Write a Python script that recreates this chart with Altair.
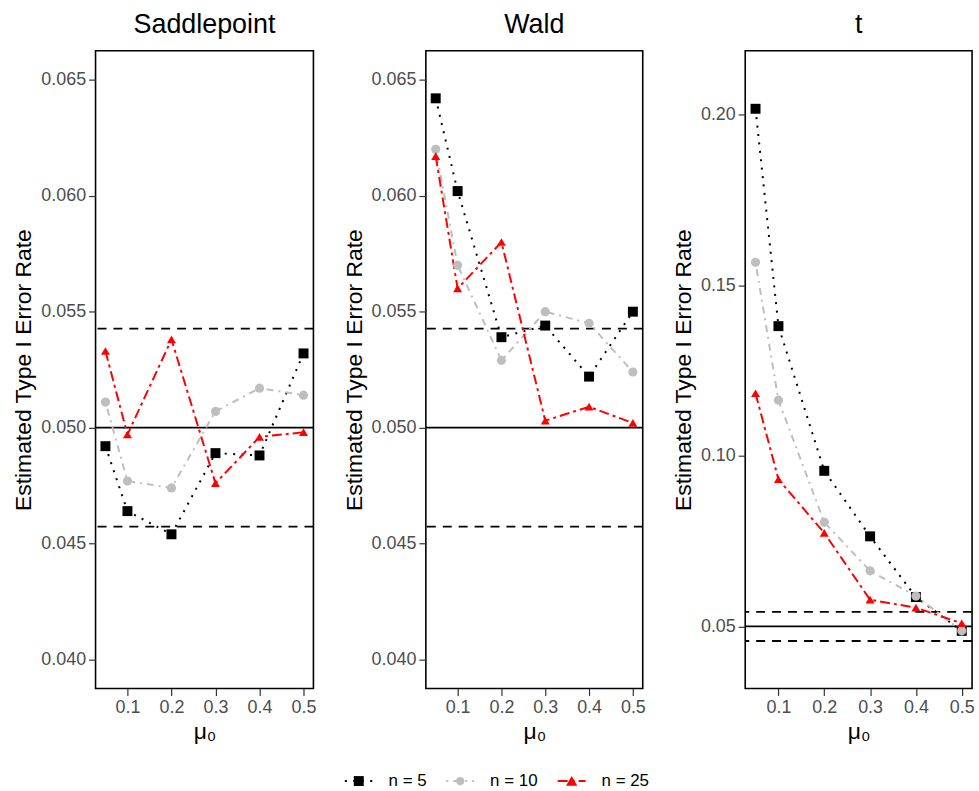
import altair as alt
import pandas as pd

# Hypothesised means and sample-size series
mu0 = [0.05, 0.1, 0.2, 0.3, 0.4, 0.5]
series = ["n = 5", "n = 10", "n = 25"]

# Estimated type I error rates, one list per test and sample size
saddle_n5 = [0.0492, 0.0464, 0.0454, 0.0489, 0.0488, 0.0532]
saddle_n10 = [0.0511, 0.0477, 0.0474, 0.0507, 0.0517, 0.0514]
saddle_n25 = [0.0533, 0.0497, 0.0538, 0.0476, 0.0496, 0.0498]

wald_n5 = [0.0642, 0.0602, 0.0539, 0.0544, 0.0522, 0.0550]
wald_n10 = [0.0620, 0.0570, 0.0529, 0.0550, 0.0545, 0.0524]
wald_n25 = [0.0617, 0.0560, 0.0580, 0.0503, 0.0509, 0.0502]

t_n5 = [0.2017, 0.1380, 0.0956, 0.0764, 0.0586, 0.0487]
t_n10 = [0.1567, 0.1163, 0.0805, 0.0663, 0.0589, 0.0487]
t_n25 = [0.1183, 0.0931, 0.0774, 0.0578, 0.0555, 0.0509]

# Nominal level and Monte Carlo band
nominal = [0.05]
band = [0.04573, 0.05427]

# Series styling (triangle as an equilateral path in the unit box)
TRIANGLE = "M0,-0.95L-1.08,0.9L1.08,0.9Z"
colors = ["black", "#BEBEBE", "#FF0000"]
dashes = [[2, 6.5], [2, 5, 7, 5], [10, 4, 3, 4]]
shapes = ["square", "circle", TRIANGLE]
sizes = [100, 70, 110]

x_domain = [0.0275, 0.5225]
x_ticks = [0.1, 0.2, 0.3, 0.4, 0.5]

FONT = "Liberation Sans"


def long_frame(values):
    rows = []
    for name, vals in zip(series, values):
        for m, v in zip(mu0, vals):
            rows.append({"mu0": m, "rate": v, "series": name})
    return pd.DataFrame(rows)


def panel(title, values, y_domain, y_ticks, y_format, width):
    df = long_frame(values)
    x_enc = alt.X(
        "mu0:Q",
        scale=alt.Scale(domain=x_domain, nice=False, zero=False),
        axis=alt.Axis(values=x_ticks, format=".1f", title="μ₀"),
    )
    y_enc = alt.Y(
        "rate:Q",
        scale=alt.Scale(domain=y_domain, nice=False, zero=False),
        axis=alt.Axis(values=y_ticks, format=y_format,
                      title="Estimated Type I Error Rate"),
    )
    color = alt.Color("series:N", scale=alt.Scale(domain=series, range=colors),
                      legend=None)
    dash = alt.StrokeDash("series:N",
                          scale=alt.Scale(domain=series, range=dashes),
                          legend=None)
    shape = alt.Shape("series:N", scale=alt.Scale(domain=series, range=shapes),
                      legend=None)
    size = alt.Size("series:N", scale=alt.Scale(domain=series, range=sizes),
                    legend=None)

    solid = alt.Chart(pd.DataFrame({"rate": nominal})).mark_rule(
        color="black", strokeWidth=1.8
    ).encode(y=y_enc)
    dashed = alt.Chart(pd.DataFrame({"rate": band})).mark_rule(
        color="black", strokeWidth=1.8, strokeDash=[9, 7]
    ).encode(y=y_enc)
    lines = alt.Chart(df).mark_line(strokeWidth=2).encode(
        x=x_enc, y=y_enc, color=color, strokeDash=dash,
        order=alt.Order("mu0:Q"),
    )
    points = alt.Chart(df).mark_point(filled=True, opacity=1).encode(
        x=x_enc, y=y_enc, color=color, shape=shape, size=size,
    )
    return alt.layer(solid, dashed, lines, points).properties(
        title=title, width=width, height=641
    )


p1 = panel("Saddlepoint", [saddle_n5, saddle_n10, saddle_n25],
           [0.03875, 0.06625], [0.040, 0.045, 0.050, 0.055, 0.060, 0.065],
           ".3f", 219)
p2 = panel("Wald", [wald_n5, wald_n10, wald_n25],
           [0.03875, 0.06625], [0.040, 0.045, 0.050, 0.055, 0.060, 0.065],
           ".3f", 218)
p3 = panel("t", [t_n5, t_n10, t_n25],
           [0.0318, 0.2187], [0.05, 0.10, 0.15, 0.20], ".2f", 228)

# Legend row: dashed segment, series symbol and label for each sample size
legend_layers = []
offsets = [9, 111, 223]
for name, col, d, shp, sz, off in zip(series, colors, dashes, shapes, sizes,
                                      offsets):
    one = pd.DataFrame({"series": [name]})
    seg = alt.Chart(one).mark_rule(color=col, strokeWidth=2,
                                   strokeDash=d).encode(
        x=alt.value(off), x2=alt.value(off + 28), y=alt.value(10)
    )
    sym = alt.Chart(one).mark_point(filled=True, opacity=1, color=col,
                                    shape=shp, size=sz).encode(
        x=alt.value(off + 14), y=alt.value(10)
    )
    lab = alt.Chart(one).mark_text(align="left", baseline="middle",
                                   fontSize=17, font=FONT,
                                   color="black").encode(
        x=alt.value(off + 44), y=alt.value(10), text="series:N"
    )
    legend_layers += [seg, sym, lab]

legend = alt.layer(*legend_layers).properties(
    width=400, height=20,
    view=alt.ViewBackground(stroke="transparent", fill="white"),
)

top = alt.hconcat(p1, p2, p3, spacing=25)

chart = alt.vconcat(top, legend, spacing=26, center=True).properties(
    padding={"left": 12, "top": 8, "right": 4, "bottom": 4}
).configure(font=FONT).configure_view(
    stroke="black", strokeWidth=1.6
).configure_axis(
    grid=False, domain=False, tickColor="#333333", tickSize=7, tickWidth=1.2,
    labelColor="#4D4D4D", labelFontSize=18, labelPadding=3,
    titleFontSize=23, titleFontWeight="normal", titleColor="black",
    labelFont=FONT, titleFont=FONT,
).configure_axisY(titlePadding=5).configure_axisX(titlePadding=4).configure_title(
    fontSize=27, fontWeight="normal", anchor="middle", font=FONT, offset=12,
    color="black",
)

chart.save("out.html", embed_options={"renderer": "svg", "actions": False})
